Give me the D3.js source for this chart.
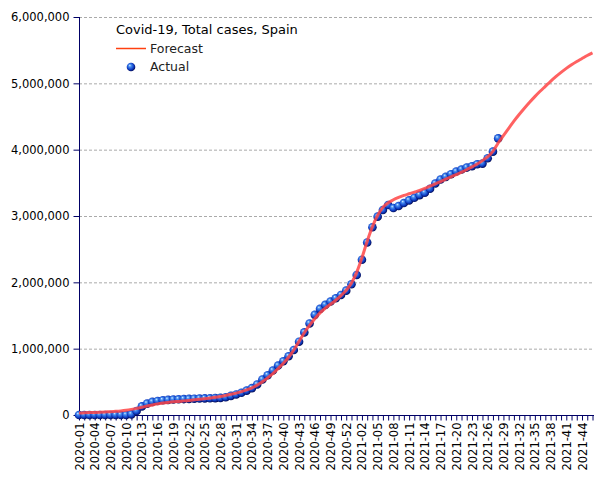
<!DOCTYPE html>
<html>
<head>
<meta charset="utf-8">
<script src="https://cdn.jsdelivr.net/npm/d3@7"></script>
<style>
  body { margin: 0; background: #fff; }
  svg { display: block; font-family: "DejaVu Sans", sans-serif; }
</style>
</head>
<body>
<svg id="chart" width="605" height="480"></svg>
<script>
const width = 605;
const height = 480;

// weeks 2020-01 .. 2020-53, 2021-01 .. 2021-46
const years = [2020, 2021];
const weeksPerYear = [53, 46];
const weeks = [];
years.forEach((yr, k) => {
    for (let w = 1; w <= weeksPerYear[k]; w++) weeks.push(yr + "-" + String(w).padStart(2, "0"));
});

// cumulative cases, thousands
const actual = [
    0, 0, 0, 0, 0, 0, 0, 0, 0, 1,
    10, 60, 130, 172, 198, 212, 222, 228, 233, 237,
    240, 243, 246, 248, 250, 252, 255, 258, 268, 288,
    310, 335, 368, 405, 460, 535, 600, 670, 745, 810,
    885, 980, 1105, 1245, 1380, 1510, 1600, 1660, 1710, 1760,
    1810, 1875, 1970, 2110, 2340, 2600, 2830, 2990, 3090, 3165,
    3120, 3150, 3195, 3235, 3275, 3315, 3350, 3410, 3490, 3550,
    3590, 3630, 3670, 3700, 3730, 3750, 3780, 3790, 3870, 3970,
    4170
];

const forecast = [
    30, 33, 36, 39, 42, 46, 50, 55, 62, 72,
    85, 100, 118, 135, 152, 168, 180, 190, 198, 205,
    213, 220, 228, 236, 245, 255, 266, 280, 296, 312,
    330, 352, 378, 410, 450, 500, 560, 625, 700, 780,
    870, 980, 1110, 1240, 1350, 1450, 1540, 1610, 1670, 1730,
    1800, 1880, 1990, 2150, 2370, 2620, 2840, 3010, 3130, 3200,
    3245, 3280, 3310, 3335, 3360, 3385, 3415, 3450, 3485, 3520,
    3555, 3590, 3625, 3660, 3700, 3740, 3785, 3835, 3895, 3975,
    4100, 4210, 4320, 4430, 4530, 4625, 4715, 4800, 4880, 4955,
    5030, 5100, 5165, 5225, 5280, 5330, 5375, 5420, 5460
];

const yTicks = [0, 1e6, 2e6, 3e6, 4e6, 5e6, 6e6];
const title = "Covid-19, Total cases, Spain";
const seriesNames = ["Forecast", "Actual"];

const svg = d3.select("#chart");
const axisColor = "#000066";

const x = d3.scalePoint().domain(weeks).range([79, 592.5]);
const y = d3.scaleLinear().domain([0, 6e6]).range([415, 17]);

// sphere look for the dots
const defs = svg.append("defs");
const grad = defs.append("radialGradient").attr("id", "ball")
    .attr("cx", "45%").attr("cy", "45%").attr("r", "60%")
    .attr("fx", "35%").attr("fy", "30%");
grad.append("stop").attr("offset", "0%").attr("stop-color", "#d8ecff");
grad.append("stop").attr("offset", "25%").attr("stop-color", "#4a90f0");
grad.append("stop").attr("offset", "65%").attr("stop-color", "#1040c8");
grad.append("stop").attr("offset", "100%").attr("stop-color", "#000040");

// grid
svg.append("g")
    .selectAll("line")
    .data(yTicks.filter(d => d > 0))
    .enter().append("line")
    .attr("x1", 79).attr("x2", 593)
    .attr("y1", d => y(d) + 0.5).attr("y2", d => y(d) + 0.5)
    .attr("stroke", "#aaa")
    .attr("stroke-width", 1)
    .attr("stroke-dasharray", "3,2");

// y axis
const yAxis = svg.append("g").attr("transform", "translate(79.5,0)")
    .call(d3.axisLeft(y).tickValues(yTicks).tickFormat(d3.format(",")).tickSize(6).tickSizeOuter(0));
yAxis.select(".domain").attr("stroke", axisColor).attr("d", `M0,${y(6e6)}V${y(0)}`);
yAxis.selectAll(".tick line").attr("stroke", axisColor);
yAxis.selectAll(".tick text").attr("font-size", 11.5).attr("fill", "#000")
    .attr("font-family", "DejaVu Sans").attr("x", -10);

// x axis
const xAxis = svg.append("g").attr("transform", "translate(0,415.5)")
    .call(d3.axisBottom(x).tickSize(5).tickSizeOuter(0)
        .tickFormat((d, i) => i % 3 === 0 ? d : ""));
xAxis.select(".domain").attr("stroke", axisColor).attr("d", "M79,0H594");
xAxis.selectAll(".tick line").attr("stroke", axisColor);
xAxis.selectAll(".tick text")
    .attr("font-size", 11.5).attr("fill", "#000").attr("font-family", "DejaVu Sans")
    .attr("transform", "rotate(-90)")
    .attr("text-anchor", "end")
    .attr("x", -7).attr("y", 0).attr("dy", "0.35em");

// actual dots
svg.append("g")
    .selectAll("circle")
    .data(actual)
    .enter().append("circle")
    .attr("cx", (d, i) => x(weeks[i]))
    .attr("cy", d => y(d * 1000))
    .attr("r", 4.3)
    .attr("fill", "url(#ball)");

// forecast line
const line = d3.line()
    .x((d, i) => x(weeks[i]))
    .y(d => y(d * 1000))
    .curve(d3.curveMonotoneX);

svg.append("path")
    .datum(forecast)
    .attr("d", line)
    .attr("fill", "none")
    .attr("stroke", "#ff4545")
    .attr("stroke-opacity", 0.85)
    .attr("stroke-width", 3)
    .attr("stroke-linejoin", "round");

// legend
const legend = svg.append("g");
legend.append("text").attr("x", 116).attr("y", 34)
    .attr("font-size", 13).attr("fill", "#000").text(title);
legend.append("line").attr("x1", 116).attr("x2", 146).attr("y1", 48.5).attr("y2", 48.5)
    .attr("stroke", "#ff4010").attr("stroke-width", 1.5);
legend.append("text").attr("x", 150).attr("y", 53)
    .attr("font-size", 12.5).attr("fill", "#222").text(seriesNames[0]);
legend.append("circle").attr("cx", 131).attr("cy", 67).attr("r", 4.3).attr("fill", "url(#ball)");
legend.append("text").attr("x", 150).attr("y", 71)
    .attr("font-size", 12.5).attr("fill", "#222").text(seriesNames[1]);
</script>
</body>
</html>
